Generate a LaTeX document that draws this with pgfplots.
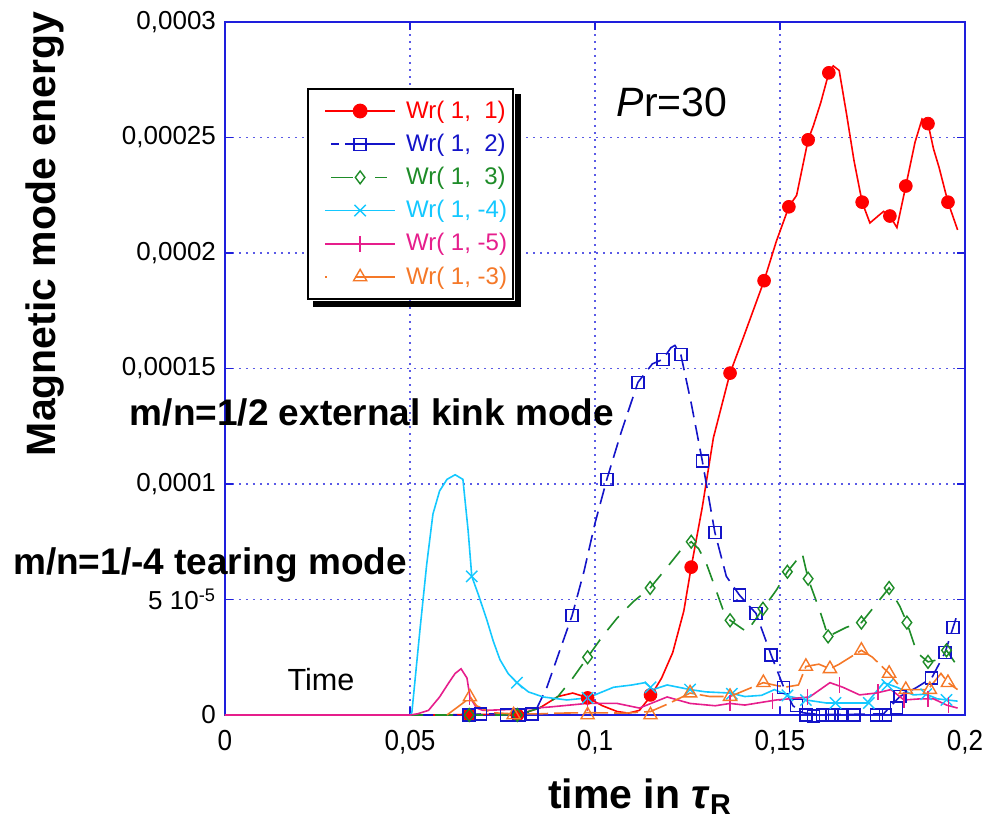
\documentclass[border=0pt]{standalone}
\usepackage{pgfplots}
\pgfplotsset{compat=1.18}
\usepackage{fontspec}
\setmainfont{Liberation Sans}
\definecolor{cR}{RGB}{255,0,0}
\definecolor{cB}{RGB}{20,20,200}
\definecolor{cG}{RGB}{30,140,40}
\definecolor{cC}{RGB}{20,200,255}
\definecolor{cM}{RGB}{230,30,140}
\definecolor{cO}{RGB}{245,120,40}
\definecolor{gridc}{RGB}{90,90,230}
\definecolor{axc}{RGB}{30,30,220}
% #1 colour, #2 path of line segments, #3 mark options
\newcommand{\legline}[3]{\path (0pt,0pt) (45pt,0pt); \draw[#1, solid, line width=0.8pt] #2; \draw[#3] plot coordinates {(24.5pt,0pt)};}
\pgfplotsset{
  legR/.style={legend image code/.code={\legline{cR}{(7pt,0pt) -- (42pt,0pt)}{##1}}},
  legB/.style={legend image code/.code={\legline{cB}{(10pt,0pt) -- (14pt,0pt) (17pt,0pt) -- (42pt,0pt)}{##1}}},
  legG/.style={legend image code/.code={\legline{cG}{(10pt,0pt) -- (21pt,0pt) (32pt,0pt) -- (38pt,0pt)}{##1}}},
  legC/.style={legend image code/.code={\legline{cC}{(7pt,0pt) -- (42pt,0pt)}{##1}}},
  legM/.style={legend image code/.code={\legline{cM}{(7pt,0pt) -- (42pt,0pt)}{##1}}},
  legO/.style={legend image code/.code={\legline{cO}{(7pt,0pt) -- (7.8pt,0pt) (22pt,0pt) -- (42pt,0pt)}{##1}}},
}
\begin{document}
\begin{tikzpicture}
\begin{scope}[shift={(-112.5pt,357.5pt)}, x=0.5pt, y=-0.5pt]
\path[use as bounding box] (0,0) rectangle (996,823);
\end{scope}
\begin{axis}[
  scale only axis, width=370pt, height=346.5pt,
  xmin=0, xmax=0.2, ymin=0, ymax=0.0003,
  clip=false,
  axis line style={axc, line width=0.8pt},
  tick style={axc, line width=0.6pt},
  major tick length=4pt,
  tick align=inside,
  grid=major,
  major grid style={gridc, line width=0.9pt, dash pattern=on 0.9pt off 2.6pt},
  xtick={0,0.05,0.1,0.15,0.2},
  xticklabels={0,{0,05},{0,1},{0,15},{0,2}},
  ytick={0,0.00005,0.0001,0.00015,0.0002,0.00025,0.0003},
  yticklabels={0,{5 10\textsuperscript{-5}},{0,0001},{0,00015},{0,0002},{0,00025},{0,0003}},
  scaled ticks=false,
  xticklabel style={font=\fontsize{14.5}{16}\selectfont, xscale=0.9, yshift=-4pt},
  yticklabel style={font=\fontsize{13}{15}\selectfont, xshift=-1pt},
  legend style={at={(0.111,0.905)}, anchor=north west, draw=black, line width=1pt,
    fill=white, font=\fontsize{12}{14}\selectfont, row sep=2.4pt,
    inner xsep=1pt, inner ysep=4pt, name=leg},
  legend cell align=left,
]
% ---------- Wr(1,1) red
\addplot[cR, line width=0.8pt, forget plot] coordinates {
(0,0) (0.05,0) (0.06,0) (0.066,0.3e-6) (0.075,0.3e-6) (0.08,0.5e-6) (0.085,3e-6) (0.09,8e-6) (0.094,9.5e-6) (0.098,7.5e-6) (0.102,4e-6) (0.106,1.5e-6) (0.109,0.8e-6) (0.112,2e-6) (0.115,8e-6) (0.118,1.6e-5) (0.121,2.7e-5) (0.124,4.5e-5) (0.126,6.4e-5) (0.129,9e-5) (0.132,1.2e-4) (0.1365,1.48e-4) (0.14,1.63e-4) (0.1457,1.88e-4) (0.149,2.05e-4) (0.1524,2.2e-4) (0.1545,2.25e-4) (0.1576,2.49e-4) (0.159,2.55e-4) (0.161,2.65e-4) (0.1632,2.78e-4) (0.1644,2.81e-4) (0.166,2.79e-4) (0.168,2.6e-4) (0.17,2.4e-4) (0.1722,2.22e-4) (0.1743,2.13e-4) (0.1765,2.16e-4) (0.178,2.18e-4) (0.1797,2.16e-4) (0.1816,2.11e-4) (0.184,2.29e-4) (0.1865,2.48e-4) (0.1884,2.58e-4) (0.19,2.56e-4) (0.1915,2.45e-4) (0.193,2.37e-4) (0.1954,2.22e-4) (0.198,2.1e-4)};
\addplot[cR, only marks, mark=*, mark size=3.2pt, legR] coordinates {
(0.066,0) (0.079,0) (0.098,7.4e-6) (0.115,8.7e-6) (0.126,6.4e-5) (0.1365,1.48e-4) (0.1457,1.88e-4) (0.1524,2.2e-4) (0.1576,2.49e-4) (0.1632,2.78e-4) (0.1722,2.22e-4) (0.1797,2.16e-4) (0.184,2.29e-4) (0.19,2.56e-4) (0.1954,2.22e-4)};
\addlegendentry{\textcolor{cR}{Wr( 1,\ \ 1)}}
% ---------- Wr(1,2) blue
\addplot[cB, line width=0.8pt, dash pattern=on 8pt off 4pt, forget plot] coordinates {
(0,0) (0.065,0) (0.07,0.5e-6) (0.08,0.5e-6) (0.084,2e-6) (0.087,1.2e-5) (0.0905,2.8e-5) (0.0938,4.3e-5) (0.097,6.2e-5) (0.1,8.3e-5) (0.1032,1.02e-4) (0.107,1.22e-4) (0.1116,1.44e-4) (0.1155,1.52e-4) (0.1184,1.54e-4) (0.1205,1.59e-4) (0.1216,1.6e-4) (0.1232,1.56e-4) (0.126,1.35e-4) (0.129,1.1e-4) (0.1324,7.9e-5) (0.1355,6e-5) (0.139,5.2e-5) (0.1435,4.4e-5) (0.1476,2.6e-5) (0.151,1.2e-5) (0.1535,4e-6) (0.156,1e-6) (0.16,0.3e-6) (0.17,0.3e-6) (0.178,0.5e-6) (0.1824,8e-6) (0.187,1.2e-5) (0.191,1.6e-5) (0.1946,2.7e-5) (0.1968,3.8e-5) (0.198,4.4e-5)};
\addplot[cB, only marks, mark=square, mark size=3pt, mark options={line width=0.7pt}, legB] coordinates {
(0.066,0) (0.069,0.5e-6) (0.076,0) (0.0795,0) (0.083,0.5e-6) (0.0938,4.3e-5) (0.1032,1.02e-4) (0.1116,1.44e-4) (0.1184,1.54e-4) (0.1232,1.56e-4) (0.129,1.1e-4) (0.1324,7.9e-5) (0.139,5.2e-5) (0.1435,4.4e-5) (0.1476,2.6e-5) (0.151,1.2e-5) (0.1545,4e-6) (0.157,0) (0.159,-0.5e-6) (0.1615,0) (0.164,0) (0.1665,0) (0.17,0) (0.176,0) (0.1785,0) (0.1815,3e-6) (0.1824,8e-6) (0.191,1.6e-5) (0.1946,2.7e-5) (0.1968,3.8e-5)};
\addlegendentry{\textcolor{cB}{Wr( 1,\ \ 2)}}
% ---------- Wr(1,3) green
\addplot[cG, line width=0.8pt, dash pattern=on 9pt off 6pt, forget plot] coordinates {
(0,0) (0.075,0) (0.08,0.5e-6) (0.085,3e-6) (0.09,8e-6) (0.094,1.6e-5) (0.098,2.5e-5) (0.102,3.4e-5) (0.106,4.2e-5) (0.1103,4.9e-5) (0.1149,5.5e-5) (0.119,6.3e-5) (0.123,7.1e-5) (0.126,7.5e-5) (0.128,7.2e-5) (0.13,6.6e-5) (0.1325,5.5e-5) (0.1345,4.6e-5) (0.1365,4.1e-5) (0.141,3.6e-5) (0.1454,4.6e-5) (0.149,5.4e-5) (0.152,6.2e-5) (0.156,7.0e-5) (0.1576,5.9e-5) (0.161,4.4e-5) (0.163,3.4e-5) (0.168,3.8e-5) (0.172,4.0e-5) (0.177,5.0e-5) (0.1795,5.5e-5) (0.1824,4.7e-5) (0.1843,4.0e-5) (0.187,2.7e-5) (0.19,2.3e-5) (0.193,2.4e-5) (0.195,2.8e-5) (0.198,2.1e-5)};
\addplot[cG, only marks, mark=diamond, mark size=3.2pt, mark options={line width=0.7pt}, legG] coordinates {
(0.066,0) (0.079,0) (0.098,2.5e-5) (0.1149,5.5e-5) (0.126,7.5e-5) (0.1365,4.1e-5) (0.1454,4.6e-5) (0.152,6.2e-5) (0.1576,5.9e-5) (0.163,3.4e-5) (0.172,4.0e-5) (0.1795,5.5e-5) (0.1843,4.0e-5) (0.190,2.3e-5) (0.195,2.8e-5)};
\addlegendentry{\textcolor{cG}{Wr( 1,\ \ 3)}}
% ---------- Wr(1,-4) cyan
\addplot[cC, line width=0.8pt, forget plot] coordinates {
(0,0) (0.05,0) (0.0505,1e-6) (0.0527,3.7e-5) (0.0545,6.5e-5) (0.0562,8.7e-5) (0.058,9.7e-5) (0.06,1.02e-4) (0.0622,1.04e-4) (0.0643,1.02e-4) (0.0657,8e-5) (0.0667,6.0e-5) (0.0685,5.2e-5) (0.0708,4.1e-5) (0.0725,3.2e-5) (0.0743,2.4e-5) (0.0765,1.8e-5) (0.0789,1.4e-5) (0.082,1.0e-5) (0.086,7.8e-6) (0.0924,6.5e-6) (0.098,7.4e-6) (0.105,1.2e-5) (0.11,1.3e-5) (0.1135,1.4e-5) (0.1157,1.1e-5) (0.1195,1.3e-5) (0.1257,1.1e-5) (0.13,1.0e-5) (0.1365,9.5e-6) (0.1405,8e-6) (0.145,8.5e-6) (0.1485,1.1e-5) (0.1527,8e-6) (0.157,6.5e-6) (0.1625,5.2e-6) (0.168,5.2e-6) (0.1735,5.2e-6) (0.178,1.4e-5) (0.1816,1.2e-5) (0.186,8.7e-6) (0.1895,9e-6) (0.1925,7e-6) (0.198,6e-6)};
\addplot[cC, only marks, mark=x, mark size=4pt, mark options={line width=0.7pt}, legC] coordinates {
(0.0667,6e-5) (0.0789,1.4e-5) (0.098,7.4e-6) (0.115,1.2e-5) (0.1257,1.1e-5) (0.137,9.2e-6) (0.152,8.5e-6) (0.157,6.5e-6) (0.165,5.2e-6) (0.174,5.2e-6) (0.179,1.3e-5) (0.1895,9e-6) (0.195,6.5e-6)};
\addlegendentry{\textcolor{cC}{Wr( 1, -4)}}
% ---------- Wr(1,-5) magenta
\addplot[cM, line width=0.8pt, forget plot] coordinates {
(0,0) (0.05,0) (0.052,0.5e-6) (0.055,2e-6) (0.058,7.8e-6) (0.0605,1.4e-5) (0.0622,1.8e-5) (0.0638,2.0e-5) (0.0654,1.6e-5) (0.0662,7.8e-6) (0.068,3e-6) (0.0697,2e-6) (0.08,2.5e-6) (0.088,3.5e-6) (0.0978,5e-6) (0.106,5e-6) (0.112,3e-6) (0.1195,7.8e-6) (0.1257,5e-6) (0.1325,4e-6) (0.1365,5e-6) (0.1405,4.3e-6) (0.149,6.5e-6) (0.158,7.8e-6) (0.1635,1.4e-5) (0.167,1.2e-5) (0.1715,8.7e-6) (0.176,9.5e-6) (0.18,1.1e-5) (0.1835,6.5e-6) (0.188,7e-6) (0.1915,7e-6) (0.195,4.3e-6) (0.198,3e-6)};
\addplot[cM, only marks, mark=|, mark size=4pt, mark options={line width=0.7pt}, legM] coordinates {
(0.066,7.8e-6) (0.098,5e-6) (0.1365,5e-6) (0.148,6.2e-6) (0.1575,7.8e-6) (0.166,1.3e-5) (0.1765,9.8e-6) (0.1835,6.5e-6) (0.19,7e-6) (0.1955,4.3e-6)};
\addlegendentry{\textcolor{cM}{Wr( 1, -5)}}
% ---------- Wr(1,-3) orange
\addplot[cO, line width=0.8pt, dash pattern=on 12pt off 3pt, forget plot] coordinates {
(0.06,0) (0.0625,3e-6) (0.065,6e-6) (0.0662,8e-6) (0.068,4e-6) (0.072,1e-6) (0.078,0.5e-6) (0.085,0.5e-6) (0.09,0.8e-6) (0.098,1e-6) (0.108,0.8e-6) (0.115,1.5e-6) (0.12,5e-6) (0.1257,9.5e-6) (0.131,8e-6) (0.1365,8e-6) (0.1455,1.4e-5) (0.1512,1.2e-5) (0.155,1.3e-5) (0.157,2.1e-5) (0.1605,2.2e-5) (0.1635,2.0e-5) (0.166,2.2e-5) (0.172,2.8e-5) (0.175,2.5e-5) (0.1795,1.8e-5) (0.183,1.1e-5) (0.19,1.1e-5) (0.1935,1.8e-5) (0.1954,1.4e-5) (0.198,1.1e-5)};
\addplot[cO, only marks, mark=triangle, mark size=3.8pt, mark options={line width=0.7pt}, legO] coordinates {
(0.0662,7.8e-6) (0.078,0) (0.098,0) (0.115,0) (0.1257,9.5e-6) (0.1365,8e-6) (0.1455,1.4e-5) (0.157,2.1e-5) (0.1635,2.0e-5) (0.172,2.8e-5) (0.1795,1.8e-5) (0.184,1.1e-5) (0.1905,1.1e-5) (0.1954,1.4e-5)};
\addlegendentry{\textcolor{cO}{Wr( 1, -3)}}
\end{axis}
% legend drop shadow (right and bottom strips)
\fill[black] ([xshift=0.5pt,yshift=-3pt]leg.north east) rectangle ([xshift=3.5pt,yshift=-3.5pt]leg.south east);
\fill[black] ([xshift=3pt,yshift=-0.5pt]leg.south west) rectangle ([xshift=3.5pt,yshift=-3.5pt]leg.south east);
\begin{scope}[shift={(-112.5pt,357.5pt)}, x=0.5pt, y=-0.5pt]
\node[rotate=90, font=\bfseries\fontsize{20.5}{22}\selectfont] at (45,234) {Magnetic mode energy};
\node[font=\bfseries\fontsize{20.5}{22}\selectfont] at (640,797) {time in \textit{τ}\textsubscript{R}};
\node[font=\bfseries\fontsize{18.5}{22}\selectfont] at (372,412) {m/n=1/2 external kink mode};
\node[font=\bfseries\fontsize{18.5}{22}\selectfont] at (210,565) {m/n=1/-4 tearing mode};
\node[font=\fontsize{20.5}{24}\selectfont] at (672,102) {\textit{P}r=30};
\node[font=\fontsize{15.3}{18}\selectfont] at (321,680) {Time};
\end{scope}
\end{tikzpicture}
\end{document}
